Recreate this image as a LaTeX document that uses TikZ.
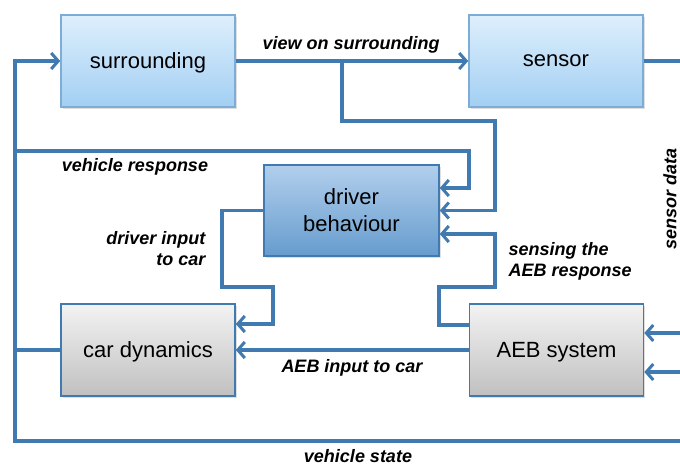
\documentclass[tikz,border=0pt]{standalone}
\usepackage{fontspec}
\setmainfont{Liberation Sans}
\usetikzlibrary{positioning,arrows.meta,shadows}

\definecolor{flowblue}{RGB}{64,122,176}
\definecolor{lighttop}{RGB}{222,239,252}
\definecolor{lightbot}{RGB}{162,207,243}
\definecolor{lightedge}{RGB}{125,172,215}
\definecolor{darktop}{RGB}{178,207,236}
\definecolor{darkbot}{RGB}{102,156,206}
\definecolor{graytop}{RGB}{243,243,243}
\definecolor{graybot}{RGB}{192,192,192}

\tikzset{
  box/.style={minimum width=174pt, minimum height=92pt, align=center,
    font=\fontsize{22}{27}\selectfont, line width=1.6pt,
    drop shadow={shadow xshift=1.5pt, shadow yshift=-1.5pt, opacity=0.25}},
  lightbox/.style={box, draw=lightedge, top color=lighttop, bottom color=lightbot},
  darkbox/.style={box, draw=flowblue, top color=darktop, bottom color=darkbot},
  graybox/.style={box, draw=flowblue, top color=graytop, bottom color=graybot},
  flow/.style={draw=flowblue, line width=3.4pt},
  lbl/.style={font=\fontsize{18}{21}\selectfont\bfseries\itshape}
}

\begin{document}
\begin{tikzpicture}[x=1pt, y=-1pt, >={Straight Barb[length=7pt,width=16pt,line width=3pt]}]
\useasboundingbox (0,0) rectangle (680,466);

% Draw the blocks
\node [lightbox, text depth=0pt] (surrounding) at (148,61) {surrounding};
\node [lightbox, text depth=0pt] (sensor) at (556,61) {sensor};
\node [darkbox, minimum width=175pt, minimum height=91pt] (driver) at (351.5,210.5) {driver\\behaviour};
\node [graybox, text depth=0pt] (cardyn) at (148,350) {car dynamics};
\node [graybox, text depth=0pt] (aeb) at (556.5,350) {AEB system};

% Corner points of the outer loop
\coordinate (topleft) at (15,61);
\coordinate (botleft) at (15,441);
\coordinate (botright) at (680,441);
\coordinate (branch) at (342,61);
\coordinate (resp) at (15,151);

% Outer loop: vehicle state back to the surrounding
\draw [flow] (cardyn.west) -- (cardyn.west -| topleft);
\draw [flow,->] (botright) -- (botleft) -- (topleft) -- (surrounding.west);

% Surrounding to sensor, sensor data out
\draw [flow,->] (surrounding) -- (sensor);
\draw [flow] (sensor.east) -- (sensor.east -| botright);

% Feeds into the driver
\draw [flow,->] (branch) |- (495,121) |- (driver.east);
\draw [flow,->] (resp) -| (469,188) -- ([yshift=22.5pt]driver.east);
\draw [flow,->] ([yshift=25pt]aeb.west) -- (439,325) -- (439,287) -- (495,287)
  -- (495,234) -- ([yshift=-23.5pt]driver.east);

% Inputs to the car
\draw [flow,->] (driver.west) -- (222,210.5) -- (222,287) -- (273,287) -- (273,324)
  -- ([yshift=26pt]cardyn.east);
\draw [flow,->] (aeb) -- (cardyn);

% Sensor data into the AEB system
\foreach \y in {333,372}
  \draw [flow,->] (680,\y) -- (aeb.east |- 0,\y);

% Label the connectors
\node [lbl] (l-view) at (351,45) {view on surrounding};
\node [lbl] (l-resp) at (135,167) {vehicle response};
\node [lbl, align=right, anchor=east] (l-drv) at (209,249) {driver input\\to car};
\node [lbl, align=left, anchor=west] (l-sens) at (505,261) {sensing the\\AEB response};
\node [lbl] (l-aeb) at (352,368) {AEB input to car};
\node [lbl] (l-state) at (358,456) {vehicle state};
\node [lbl, rotate=90] (l-data) at (670,199) {sensor data};
\end{tikzpicture}
\end{document}
